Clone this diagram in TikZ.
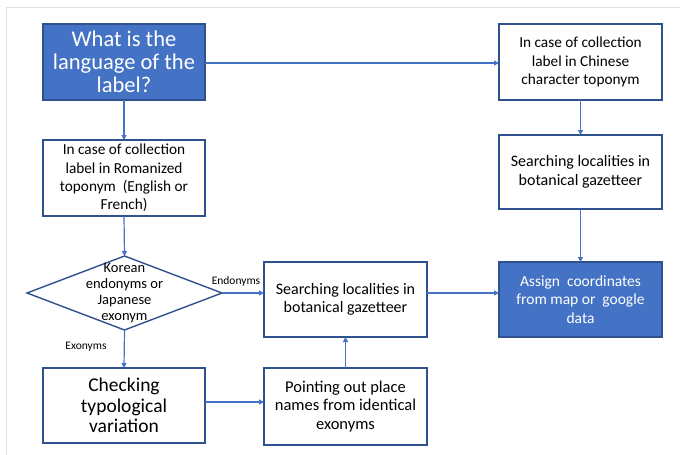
\documentclass[tikz,border=0pt]{standalone}
\usepackage{fontspec}
\setmainfont{Carlito}
\usetikzlibrary{arrows.meta,shapes.geometric}
\definecolor{boxblue}{HTML}{4472C4}
\definecolor{edgeblue}{HTML}{2F528F}
\definecolor{lineblue}{HTML}{4472C4}
\definecolor{framegray}{HTML}{DEDEDA}
\begin{document}
\begin{tikzpicture}[x=1pt,y=-1pt,
  stepbox/.style={draw=edgeblue, line width=1.4pt, fill=white, align=center,
    inner sep=0pt, outer sep=0pt, minimum width=163pt, minimum height=75pt,
    font=\fontsize{15.3}{18.3}\selectfont},
  bluebox/.style={stepbox, fill=boxblue, text=white},
  conn/.style={draw=lineblue, line width=1.2pt, -{Triangle[length=5pt,width=5pt]}},
  lbl/.style={font=\fontsize{11.5}{13}\selectfont, inner sep=0pt}]
\useasboundingbox (0,0) rectangle (680,455);
\draw[framegray, line width=1pt] (680,7) -- (6,7) -- (6,455);

\node[bluebox, minimum width=162pt, minimum height=76pt, font=\fontsize{22.5}{23}\selectfont] (q) at (124,62) {What is the\\language of the\\label?};
\node[stepbox, minimum height=76pt] (chn) at (580.5,62) {In case of collection\\label in Chinese\\character toponym};
\node[stepbox, minimum width=162pt, minimum height=76pt] (rom) at (124,178) {In case of collection\\label in Romanized\\toponym\ \ (English or\\French)};
\node[stepbox, minimum height=74pt, font=\fontsize{16}{18.5}\selectfont] (rsearch) at (580.5,172) {Searching localities in\\botanical gazetteer};
\node[draw=edgeblue, line width=1.4pt, fill=white, diamond, inner sep=0pt, outer sep=0pt,
  minimum width=195pt, minimum height=74pt] (dia) at (124.5,293) {};
\node[align=center, font=\fontsize{14.5}{16}\selectfont] (diatext) at (dia.center) {Korean\\endonyms or\\Japanese\\exonym};
\node[stepbox, font=\fontsize{16}{18.5}\selectfont] (msearch) at (345.5,299.5) {Searching localities in\\botanical gazetteer};
\node[bluebox, font=\fontsize{15.5}{18.5}\selectfont] (assign) at (580.5,299.5) {Assign\ \ coordinates\\from map or\ \ google\\data};
\node[stepbox, minimum width=162pt, font=\fontsize{19.5}{20.5}\selectfont] (check) at (124,405.5) {Checking\\typological\\variation};
\node[stepbox, minimum height=77pt, font=\fontsize{16.5}{18.5}\selectfont] (point) at (345.5,406.5) {Pointing out place\\names from identical\\exonyms};

\node[lbl] (endo) at (236,281) {Endonyms};
\node[lbl] (exo) at (86,347) {Exonyms};

\draw[conn] (q.east |- 0,63) -- (chn.west |- 0,63);
\draw[conn] (q.south) -- (rom.north);
\draw[conn] (rom.south) -- (dia.north);
\draw[conn] (chn.south) -- (rsearch.north);
\draw[conn] (rsearch.south) -- (assign.north);
\draw[conn] (dia.east) -- (dia.east -| msearch.west);
\draw[conn] (msearch.east |- dia.east) -- (assign.west |- dia.east);
\draw[conn] (dia.south) -- (check.north);
\draw[conn] (check.east |- 0,402) -- (point.west |- 0,402);
\draw[conn] (point.north) -- (msearch.south);
\end{tikzpicture}
\end{document}
